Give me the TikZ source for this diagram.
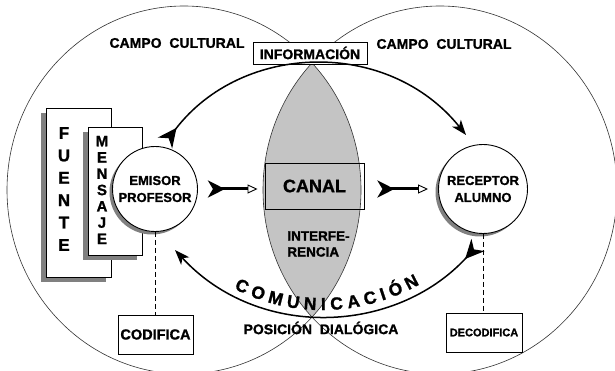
\documentclass[tikz,border=0pt]{standalone}
\usepackage{fontspec}
\setmainfont{Liberation Sans}[BoldFeatures={FakeBold=1.2}]
\usetikzlibrary{arrows.meta,decorations.text,positioning}

\tikzset{every picture/.style={line width=0.75pt}}
\tikzset{
  sombra/.style={preaction={fill=black!50,draw=none,transform canvas={xshift=-#1,yshift=-#1}}},
  sombra/.default=4pt,
  campo/.style={font=\bfseries\fontsize{14}{16}\selectfont,inner sep=0pt},
  caja/.style={draw,fill=white,line width=0.9pt,inner sep=0pt},
  persona/.style={circle,draw,fill=white,line width=0.9pt,inner sep=0pt,align=center,font=\bfseries\fontsize{13}{17}\selectfont,sombra=3pt},
  columna/.style={draw,fill=white,line width=0.9pt,inner sep=0pt,sombra=5pt},
  letras/.style={align=center,inner sep=0pt},
  flujo/.style={line width=1.5pt,{Stealth[reversed,length=19pt,width=18pt,inset=6pt]}-{Stealth[length=15pt,width=11pt,inset=4pt]}},
  paso/.style={line width=3pt,{Stealth[reversed,length=17pt,width=17pt,inset=5pt]}-{Triangle[length=10pt,width=9pt,line width=0.9pt,fill=white]}},
  guion/.style={dash pattern=on 5pt off 3pt,line width=0.8pt},
  lente/.style={fill=black!23},
  campocult/.style={line width=0.6pt,draw=black!80}
}

\begin{document}
\begin{tikzpicture}[x=1pt,y=1pt,yscale=-1]
\useasboundingbox (0,0) rectangle (615,371);
\fill[white] (0,0) rectangle (615,371);

%Shape: Lens (overlap of both fields)
\begin{scope}
\clip (184,190) ellipse [x radius=177, y radius=184];
\fill[lente] (440,190) ellipse [x radius=177, y radius=184];
\end{scope}
%Shape: Ellipse
\draw[campocult] (184,190) ellipse [x radius=177, y radius=184];
%Shape: Ellipse
\draw[campocult] (440,190) ellipse [x radius=177, y radius=184];

% Text Node
\draw (177,43) node [campo] (campoizq) {CAMPO\ \ CULTURAL};
% Text Node
\draw (444,44) node [campo] (campoder) {CAMPO\ \ CULTURAL};
% Text Node
\draw (310,53) node [caja,minimum width=114pt,minimum height=22pt,font=\bfseries\fontsize{14}{16}\selectfont] (info) {INFORMACIÓN};

%Shape: Rectangle
\draw (78.5,192.5) node [columna,minimum width=65pt,minimum height=169pt] (fuente) {};
\draw (64,189) node [letras,font=\bfseries\fontsize{17}{22.4}\selectfont] (fuentetxt) {F\\U\\E\\N\\T\\E};
%Shape: Rectangle
\draw (115,191) node [columna,minimum width=54pt,minimum height=128pt] (mensaje) {};
\draw (102,190) node [letras,font=\bfseries\fontsize{15}{16.3}\selectfont] (mensajetxt) {M\\E\\N\\S\\A\\J\\E};

%Shape: Circle
\draw (155,189) node [persona,minimum size=85pt] (emisor) {EMISOR\\PROFESOR};
%Shape: Circle
\draw (483,189) node [persona,minimum size=89pt] (receptor) {RECEPTOR\\ALUMNO};

%Shape: Rectangle
\draw (314.5,186) node [draw,line width=0.9pt,minimum width=99pt,minimum height=46pt,font=\bfseries\fontsize{18}{20}\selectfont] (canal) {CANAL};
% Text Node
\draw (287,244) node [anchor=west,letras,align=left,font=\bfseries\fontsize{13.5}{16}\selectfont] (interf) {INTERFE-\\RENCIA};

% Text Node
\draw (155.5,334.5) node [caja,minimum width=75pt,minimum height=39pt,font=\bfseries\fontsize{14.5}{16}\selectfont] (codifica) {CODIFICA};
% Text Node
\draw (484,332.5) node [caja,minimum width=76pt,minimum height=39pt,font=\bfseries\fontsize{11}{13}\selectfont] (decodifica) {DECODIFICA};

%Straight Lines
\draw[guion] (emisor.south) -- (emisor.south |- codifica.north);
\draw[guion] (receptor.south) -- (receptor.south |- decodifica.north);

%Straight Lines
\draw[paso,shorten <=10pt,shorten >=7pt] (emisor.east) -- (emisor.east -| canal.west);
\draw[paso,shorten <=13pt,shorten >=10pt] (canal.east |- receptor) -- (receptor.west);

%Curve Lines
\coordinate (ida) at (165,143);
\coordinate (llega) at (466,135);
\coordinate (vuelta) at (478,245);
\coordinate (regreso) at (175,250);
\draw[flujo] (ida) .. controls (242,42) and (388,38) .. (llega);
\draw[flujo] (vuelta) .. controls (395,335) and (258,340) .. (regreso);

% Text along the lower curve
\path[decorate,decoration={text along path,text align=center,
  text={|\bfseries\fontsize{17.5}{18}\selectfont|C O M U N I C A C I Ó N}}]
  (178,245) .. controls (259,335) and (394,330) .. (475,240);

% Text Node
\draw (321,328) node [campo,font=\bfseries\fontsize{14}{16}\selectfont] (posicion) {POSICIÓN\ \ DIALÓGICA};

\end{tikzpicture}
\end{document}
